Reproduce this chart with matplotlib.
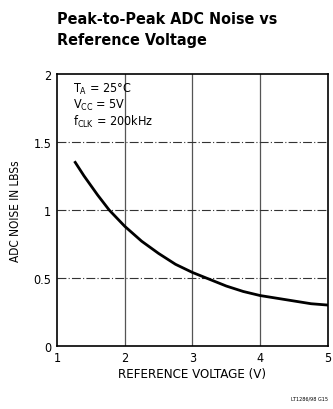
import numpy as np
import matplotlib.pyplot as plt

plt.rcParams['font.family'] = ['DejaVu Sans']
plt.rcParams['font.stretch'] = 'condensed'

# noise curve
vref = [1.27, 1.4, 1.6, 1.77, 2.0, 2.25, 2.5, 2.75, 3.0, 3.25, 3.5, 3.75, 4.0, 4.25, 4.5, 4.75, 5.0]
noise = [1.35, 1.25, 1.11, 1.00, 0.88, 0.77, 0.68, 0.60, 0.54, 0.49, 0.44, 0.40, 0.37, 0.35, 0.33, 0.31, 0.30]

x_ticks = [1, 2, 3, 4, 5]
y_ticks = [0, 0.5, 1, 1.5, 2]
y_tick_labels = ['0', '0.5', '1', '1.5', '2']

fig = plt.figure(figsize=(3.33, 4.10), dpi=100)
ax = fig.add_axes([0.171, 0.154, 0.814, 0.663])

# grid: solid verticals, dash-dot horizontals
for xv in x_ticks[1:-1]:
    ax.axvline(xv, color='#555555', lw=0.9, zorder=1)
for yv in y_ticks[1:-1]:
    ax.axhline(yv, color='#333333', lw=0.8, ls=(0, (8, 2, 1, 2)), zorder=1)

ax.plot(vref, noise, color='black', lw=2.0, zorder=3)

ax.set_xlim(1, 5)
ax.set_ylim(0, 2)
ax.set_xticks(x_ticks)
ax.set_yticks(y_ticks)
ax.set_yticklabels(y_tick_labels)
ax.tick_params(length=0, labelsize=9, pad=4)
for s in ax.spines.values():
    s.set_linewidth(1.2)

ax.set_xlabel('REFERENCE VOLTAGE (V)', fontsize=9.5, labelpad=2)
ax.set_ylabel('ADC NOISE IN LBSs', fontsize=8.5, labelpad=8)

ax.text(0.06, 0.975,
        'T$_\\mathregular{A}$ = 25°C\nV$_\\mathregular{CC}$ = 5V\nf$_\\mathregular{CLK}$ = 200kHz',
        transform=ax.transAxes, fontsize=9, va='top', ha='left', linespacing=1.1)

fig.text(0.171, 0.97, 'Peak-to-Peak ADC Noise vs\nReference Voltage',
         fontsize=11.5, fontweight='bold', va='top', ha='left', linespacing=1.45)

fig.text(0.985, 0.02, 'LT1286/98 G15', fontsize=4, ha='right', va='bottom')

fig.savefig('out.png', dpi=100)
